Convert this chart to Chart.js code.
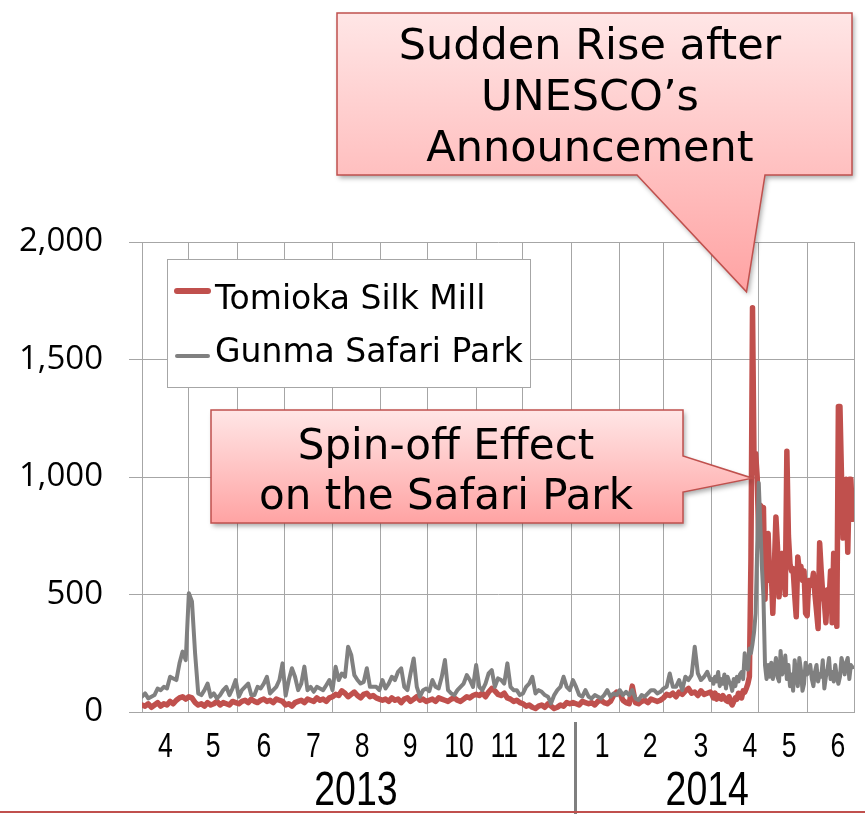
<!DOCTYPE html>
<html>
<head>
<meta charset="utf-8">
<script src="https://cdn.jsdelivr.net/npm/chart.js@4.4.1/dist/chart.umd.min.js"></script>
<style>
  html, body { margin: 0; padding: 0; background: #fff; }
  #wrap { width: 865px; height: 814px; position: relative; }
</style>
</head>
<body>
<div id="wrap"><canvas id="trendChart" width="865" height="814"></canvas></div>
<script>
// --- data: daily visitors, day 0 = 2013-04-01 ---
// Apr 2013 - Mar 2014, read every 2nd day
const tomioka2013 = [
  30, 25, 35, 20, 30, 40, 25, 35, 30, 45, 35, 50, 60, 65, 55,
  65, 60, 40, 30, 35, 25, 40, 30, 35, 45, 30, 40, 35, 30, 45, 40,
  35, 45, 50, 40, 55, 45, 40, 50, 55, 45, 50, 40, 55, 50, 45,
  30, 35, 25, 40, 45, 50, 40, 55, 50, 45, 60, 50, 55, 45, 60,
  65, 75, 70, 90, 80, 65, 75, 85, 70, 60, 75, 80, 65, 70, 60, 55,
  50, 55, 45, 60, 50, 55, 40, 55, 60, 45, 55, 65, 50, 55, 45,
  50, 55, 45, 60, 55, 50, 45, 55, 60, 50, 45, 55, 65, 60, 70,
  75, 70, 80, 65, 85, 100, 90, 75, 70, 80, 60, 55, 45, 50, 40,
  35, 25, 30, 20, 15, 25, 30, 20, 35, 25, 15, 20, 30, 25, 40, 35,
  40, 35, 30, 45, 40, 35, 40, 30, 45, 50, 40, 35, 45, 70, 85,
  80, 50, 40, 35, 110, 40, 35, 45, 50, 40, 55, 50, 45, 50,
  60, 75, 70, 80, 65, 85, 75, 90, 100, 80, 85, 70, 90, 75, 80, 85
];
const safari2013 = [
  65, 79, 58, 65, 72, 100, 93, 107, 100, 150, 143, 136, 207, 257, 221,
  505, 470, 250, 79, 72, 93, 121, 65, 79, 58, 72, 93, 107, 72, 100, 136,
  65, 93, 107, 121, 72, 72, 107, 100, 121, 150, 79, 93, 107, 136, 207,
  70, 136, 186, 150, 93, 121, 193, 93, 107, 86, 107, 100, 93, 114, 136,
  93, 193, 136, 164, 150, 278, 243, 157, 136, 121, 128, 186, 107, 107, 107, 93,
  136, 100, 121, 150, 136, 171, 186, 107, 93, 164, 228, 107, 65, 93, 100,
  89, 136, 107, 100, 150, 221, 93, 79, 72, 93, 107, 121, 157, 136, 107,
  200, 107, 93, 121, 164, 178, 107, 143, 136, 121, 207, 107, 93, 93, 72,
  79, 107, 121, 150, 79, 93, 86, 72, 65, 37, 72, 93, 107, 150, 107, 93,
  136, 107, 72, 65, 93, 65, 58, 72, 65, 58, 72, 93, 65, 79, 72,
  93, 72, 86, 72, 93, 58, 51, 72, 65, 79, 93, 93, 79, 86,
  100, 107, 164, 107, 107, 136, 93, 150, 136, 157, 278, 164, 136, 150, 171, 136
];
// Apr - Jun 2014, every day
const tomioka2014 = [
  75, 60, 80, 55, 70, 60, 55, 70, 60, 50, 45, 65, 40, 30, 45, 60, 55, 80, 70, 60, 90, 85, 100, 120, 150, 650, 1720, 1050, 1100, 1000,
  730, 880, 860, 870, 480, 700, 760, 560, 600, 420, 620, 830, 700, 490, 600, 675, 640, 500, 1110, 750, 630, 600, 610, 500, 405, 660, 600, 620, 560, 600, 420,
  410, 560, 560, 540, 590, 500, 430, 355, 720, 600, 500, 470, 380, 520, 470, 600, 380, 675, 480, 365, 1300, 1300, 1000, 740, 870, 990, 680, 990, 990, 820
];
const safari2014 = [
  140, 120, 150, 130, 170, 110, 140, 120, 160, 100, 150, 130, 120, 90, 140, 110, 150, 130, 160, 170, 140, 250, 200, 180, 270, 250, 290, 340, 420, 700,
  975, 800, 620, 490, 200, 140, 200, 150, 210, 140, 180, 230, 150, 130, 260, 160, 180, 240, 140, 200, 110, 160, 90, 220, 150, 110, 230, 180, 90, 120, 210,
  160, 180, 200, 140, 110, 170, 200, 130, 160, 150, 220, 100, 150, 180, 230, 140, 170, 130, 200, 150, 120, 150, 230, 200, 160, 210, 230, 140, 200, 190
];

const seriesNames = ['Tomioka Silk Mill', 'Gunma Safari Park'];
const monthStarts = [0, 30, 61, 91, 122, 153, 183, 214, 244, 275, 306, 334, 365, 395, 426, 456];
const monthLabels = ['4', '5', '6', '7', '8', '9', '10', '11', '12', '1', '2', '3', '4', '5', '6'];
const yearLabels = ['2013', '2014'];
const yTicks = [0, 500, 1000, 1500, 2000];

// --- helpers ---
const toPoints = (early, late) => {
    const pts = early.map((v, i) => ({ x: i * 2, y: v }));
    late.forEach((v, i) => pts.push({ x: 365 + i, y: v }));
    return pts;
};

const RED = '#C0504D';
const GRAY = '#808080';
const GRID = '#A6A6A6';

// month label anchors (day units) and year label anchors, as set on the slide
const monthLabelDays = [15, 45.6, 78, 109.7, 141, 171.8, 203, 232, 262, 294.7, 325.4, 358, 389.4, 414.4, 445.7];
const yearLabelDays = [137, 362];
const yearSplitDay = 277;

// narrow text: no condensed face installed, so squeeze it
function narrowText(ctx, text, x, y, size, squeeze) {
    ctx.save();
    ctx.translate(x, y);
    ctx.scale(squeeze, 1);
    ctx.font = size + "px 'Liberation Sans', Arial, sans-serif";
    ctx.fillText(text, 0, 0);
    ctx.restore();
}

function callout(ctx, pts, lines, cx, baselines, font) {
    ctx.save();
    const ys = pts.map(p => p[1]);
    const g = ctx.createLinearGradient(0, Math.min(...ys), 0, Math.max(...ys));
    g.addColorStop(0, '#FFE6E6');
    g.addColorStop(1, '#FFA3A3');
    ctx.beginPath();
    pts.forEach((p, i) => i ? ctx.lineTo(p[0], p[1]) : ctx.moveTo(p[0], p[1]));
    ctx.closePath();
    ctx.shadowColor = 'rgba(0,0,0,0.35)';
    ctx.shadowBlur = 5;
    ctx.shadowOffsetX = 2;
    ctx.shadowOffsetY = 3;
    ctx.fillStyle = g;
    ctx.fill();
    ctx.shadowColor = 'transparent';
    ctx.strokeStyle = RED;
    ctx.lineWidth = 1.5;
    ctx.stroke();
    ctx.fillStyle = '#000';
    ctx.font = font;
    ctx.textAlign = 'center';
    ctx.textBaseline = 'alphabetic';
    lines.forEach((t, i) => ctx.fillText(t, cx, baselines[i]));
    ctx.restore();
}

const overlayPlugin = {
    id: 'overlay',
    afterDraw(chart) {
        const ctx = chart.ctx;
        const xs = chart.scales.x;
        const ys = chart.scales.y;
        const area = chart.chartArea;

        // month numbers and years
        ctx.save();
        ctx.fillStyle = '#000';
        ctx.textAlign = 'center';
        ctx.textBaseline = 'alphabetic';
        monthLabels.forEach((m, i) => narrowText(ctx, m, xs.getPixelForValue(monthLabelDays[i]), 757, 35, 0.76));
        yearLabels.forEach((y, i) => narrowText(ctx, y, xs.getPixelForValue(yearLabelDays[i]), 805, 48, 0.78));

        // year divider
        const sx = Math.round(xs.getPixelForValue(yearSplitDay)) + 0.5;
        ctx.strokeStyle = '#7F7F7F';
        ctx.lineWidth = 3;
        ctx.beginPath();
        ctx.moveTo(sx, area.bottom + 10);
        ctx.lineTo(sx, 814);
        ctx.stroke();

        // slide bottom rule
        ctx.strokeStyle = RED;
        ctx.lineWidth = 2;
        ctx.beginPath();
        ctx.moveTo(0, 812);
        ctx.lineTo(865, 812);
        ctx.stroke();

        // legend box
        ctx.fillStyle = '#fff';
        ctx.fillRect(167, 259, 363, 128);
        ctx.strokeStyle = GRID;
        ctx.lineWidth = 1;
        ctx.strokeRect(167.5, 259.5, 363, 128);
        ctx.lineCap = 'round';
        ctx.strokeStyle = RED;
        ctx.lineWidth = 6;
        ctx.beginPath(); ctx.moveTo(177, 291); ctx.lineTo(208, 291); ctx.stroke();
        ctx.strokeStyle = GRAY;
        ctx.lineWidth = 4;
        ctx.beginPath(); ctx.moveTo(177, 356); ctx.lineTo(208, 356); ctx.stroke();
        ctx.fillStyle = '#000';
        ctx.textAlign = 'left';
        ctx.font = "33px 'DejaVu Sans', sans-serif";
        ctx.fillText(seriesNames[0], 215, 309);
        ctx.fillText(seriesNames[1], 215, 362);
        ctx.restore();

        // callouts, tails anchored on the data
        const peakX = xs.getPixelForValue(365 + 26);
        const peakY = ys.getPixelForValue(1720);
        callout(ctx, [
            [337, 13], [852, 13], [852, 175], [765, 175],
            [peakX - 6, peakY - 16], [637, 175], [337, 175]
        ], ['Sudden Rise after', 'UNESCO\u2019s', 'Announcement'], 590, [59, 110, 161],
            "43px 'DejaVu Sans', sans-serif");

        const spinX = xs.getPixelForValue(365 + 26);
        const spinY = ys.getPixelForValue(995);
        callout(ctx, [
            [211, 410], [683, 410], [683, 456], [spinX, spinY],
            [683, 492], [683, 523], [211, 523]
        ], ['Spin-off Effect', 'on the Safari Park'], 446, [459, 509],
            "42px 'DejaVu Sans', sans-serif");
    }
};

new Chart(document.getElementById('trendChart'), {
    type: 'line',
    data: {
        datasets: [
            {
                label: seriesNames[0],
                data: toPoints(tomioka2013, tomioka2014),
                borderColor: RED,
                borderWidth: 5.5,
                order: 2
            },
            {
                label: seriesNames[1],
                data: toPoints(safari2013, safari2014),
                borderColor: GRAY,
                borderWidth: 4,
                order: 1
            }
        ]
    },
    options: {
        responsive: false,
        animation: false,
        layout: { padding: { top: 242, right: 11, bottom: 102, left: 0 } },
        elements: {
            point: { radius: 0 },
            line: { tension: 0, borderJoinStyle: 'round', borderCapStyle: 'round', fill: false }
        },
        plugins: { legend: { display: false }, tooltip: { enabled: false } },
        scales: {
            x: {
                type: 'linear',
                min: 0,
                max: 456,
                afterBuildTicks: (axis) => { axis.ticks = monthStarts.map(v => ({ value: v })); },
                afterFit: (axis) => { axis.height = 0; },
                ticks: { display: false },
                grid: { color: GRID, lineWidth: 1, drawTicks: false },
                border: { color: GRID }
            },
            y: {
                min: 0,
                max: 2000,
                afterBuildTicks: (axis) => { axis.ticks = yTicks.map(v => ({ value: v })); },
                afterFit: (axis) => { axis.width = 142; },
                ticks: {
                    color: '#000',
                    padding: 26,
                    font: { family: "'Open Sans', sans-serif", size: 33 },
                    callback: (v) => v.toLocaleString('en-US')
                },
                grid: { color: GRID, lineWidth: 1, tickLength: 13 },
                border: { color: GRID }
            }
        }
    },
    plugins: [overlayPlugin]
});
</script>
</body>
</html>
